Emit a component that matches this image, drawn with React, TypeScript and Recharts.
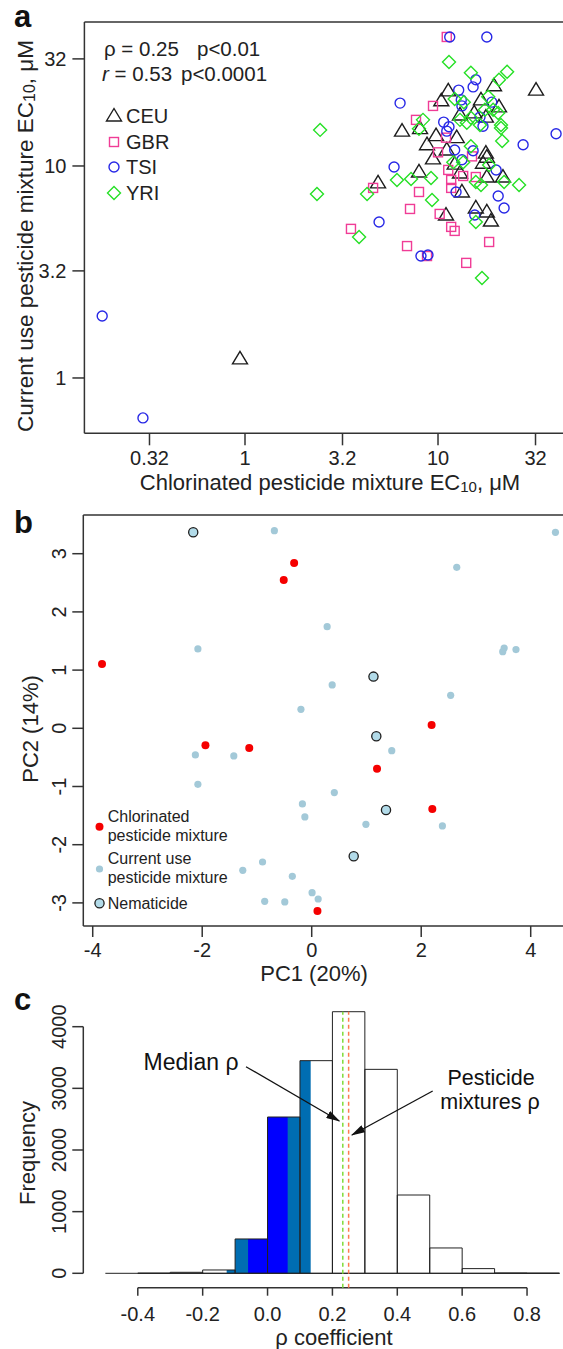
import React from 'react';
import {
  ScatterChart,
  Scatter,
  XAxis,
  YAxis,
  ComposedChart,
  ReferenceArea,
  ReferenceLine,
} from 'recharts';

const FONT = '"Liberation Sans", Arial, Helvetica, sans-serif';
const INK = '#222';
const AXIS = '#333';

// ---------------- Panel a: EC10 values (µM): [chlorinated, current use] ----------------
const CEU: number[][] = [
  [32.2, 22.8], [19.5, 23.9], [11.3, 22.6], [10.4, 20.3], [16.7, 20.5], [20.7, 19.0],
  [15.4, 17.8], [13.0, 17.4], [17.7, 17.0], [6.51, 14.6], [8.07, 15.0], [9.77, 13.9],
  [12.5, 13.6], [8.77, 12.6], [9.42, 10.8], [11.1, 11.9], [17.7, 11.5], [17.9, 11.0],
  [17.1, 10.3], [12.2, 10.2], [13.0, 9.27], [7.97, 9.37], [4.89, 8.32], [17.9, 8.87],
  [21.7, 8.87], [13.3, 7.54], [11.0, 5.87], [15.7, 6.34], [17.9, 6.07], [18.8, 5.5],
  [0.942, 1.23],
];
const GBR: number[][] = [
  [11.1, 40.6], [9.42, 19.2], [7.69, 16.5], [10.0, 11.6], [11.0, 13.6], [11.3, 9.58],
  [11.7, 8.59], [11.7, 7.88], [13.5, 8.97], [15.0, 11.1], [15.7, 8.87], [7.97, 7.54],
  [4.61, 7.88], [7.16, 6.27], [10.2, 5.94], [11.7, 5.16], [12.2, 4.94], [3.54, 5.05],
  [6.91, 4.19], [8.77, 3.76], [14.0, 3.49], [18.4, 4.38],
];
const TSI: number[][] = [
  [11.5, 40.6], [17.9, 40.6], [15.7, 25.5], [15.2, 23.6], [12.8, 22.8], [6.36, 19.8],
  [13.2, 20.5], [13.3, 19.2], [19.0, 20.0], [10.7, 16.1], [11.4, 15.3], [11.1, 14.6],
  [16.5, 17.0], [17.1, 15.4], [40.9, 14.2], [27.6, 12.6], [12.2, 11.9], [15.2, 11.8],
  [13.3, 10.7], [5.92, 9.89], [20.0, 9.58], [12.4, 7.54], [20.5, 7.22], [22.0, 6.34],
  [4.95, 5.44], [15.5, 5.87], [8.16, 3.76], [8.87, 3.8], [0.182, 1.96], [0.296, 0.648],
];
const YRI: number[][] = [
  [11.4, 30.9], [14.8, 27.5], [22.8, 27.8], [20.7, 25.5], [12.2, 20.7], [13.6, 20.0],
  [18.2, 21.2], [19.3, 18.4], [20.5, 17.8], [14.8, 16.9], [21.2, 15.6], [8.36, 16.5],
  [7.97, 15.0], [13.0, 16.5], [14.1, 16.0], [2.45, 14.8], [21.2, 15.1], [21.5, 13.1],
  [14.8, 12.4], [12.0, 10.4], [13.5, 10.4], [18.4, 10.1], [9.2, 8.78], [6.13, 8.59],
  [7.25, 8.68], [15.7, 8.41], [16.7, 8.14], [26.3, 8.14], [22.0, 8.41], [4.29, 7.38],
  [2.36, 7.38], [9.31, 6.91], [15.7, 5.44], [3.9, 4.62], [16.9, 2.96], [16.5, 15.6],
  [17.5, 18.4],
];
const aTicksX = [0.32, 1, 3.2, 10, 32];
const aTicksY = [1, 3.2, 10, 32];
const aDomainX = [0.1472, 61.3];
const aDomainY = [0.5483, 47.77];
const aPopulations = ['CEU', 'GBR', 'TSI', 'YRI'];
const aStats = ['ρ = 0.25', 'p<0.01', 'r = 0.53', 'p<0.0001'];

// ---------------- Panel b: PCA scores [PC1, PC2] ----------------
const chlorinatedPC: number[][] = [
  [-0.321, 2.841], [-0.511, 2.549], [-3.83, 1.105], [2.19, 0.057], [-1.941, -0.292],
  [-1.141, -0.338], [1.193, -0.693], [2.203, -1.386], [0.105, -3.138],
];
const currentUsePC: number[][] = [
  [-0.682, 3.396], [4.452, 3.368], [2.649, 2.766], [0.282, 1.747], [-2.079, 1.363],
  [3.515, 1.38], [3.489, 1.317], [3.731, 1.352], [0.374, 0.745], [2.538, 0.567],
  [-0.197, 0.326], [-2.125, -0.458], [-1.423, -0.475], [1.462, -0.384], [-2.079, -0.962],
  [0.413, -1.105], [-0.17, -1.3], [-0.125, -1.523], [2.387, -1.678], [0.99, -1.65],
  [-0.898, -2.297], [-1.259, -2.44], [-0.354, -2.543], [0.007, -2.824], [0.118, -2.933],
  [-0.859, -2.973], [-0.492, -2.984],
];
const nematicidePC: number[][] = [
  [-2.164, 3.368], [1.128, 0.888], [1.18, -0.137], [1.357, -1.403], [0.767, -2.199],
];
const bTicksX = [-4, -2, 0, 2, 4];
const bTicksY = [-3, -2, -1, 0, 1, 2, 3];
const bDomainX = [-4.172, 5.083];
const bDomainY = [-3.397, 3.665];

// ---------------- Panel c: histogram of rho ----------------
const binEdges = [-0.5, -0.4, -0.3, -0.2, -0.1, 0, 0.1, 0.2, 0.3, 0.4, 0.5, 0.6, 0.7, 0.8, 0.9];
const binCounts = [0, 2, 16, 54, 557, 2535, 3449, 4243, 3308, 1270, 411, 76, 5, 2];
const ciOuter = [-0.126, 0.133];
const ciInner = [-0.06, 0.062];
const medianRho = 0.232;
const mixtureRho = 0.25;
const cTicksX = [-0.4, -0.2, 0, 0.2, 0.4, 0.6, 0.8];
const cTicksY = [0, 1000, 2000, 3000, 4000];
const cDomainX = [-0.568, 0.9941];
const cDomainY = [-233.6, 4433];

const COL = { CEU: '#1e1e1e', GBR: '#f03c96', TSI: '#2828e6', YRI: '#26e026' };
const LIGHTBLUE = '#a3c9d8';
const NEMFILL = '#b2dbe9';
const RED = '#f50000';
const STEEL = '#006db2';
const BRIGHT = '#0000ff';

const toPts = (arr: number[][]) => arr.map(([x, y]) => ({ x, y }));

// ---------- symbols ----------
function symbol(kind: string, cx: number, cy: number, key?: any) {
  if (kind === 'CEU')
    return (
      <polygon key={key} points={`${cx},${cy - 7.5} ${cx + 7.5},${cy + 5} ${cx - 7.5},${cy + 5}`}
        fill="none" stroke={COL.CEU} strokeWidth={1.4} />
    );
  if (kind === 'GBR')
    return <rect key={key} x={cx - 4.5} y={cy - 4.5} width={9} height={9} fill="none" stroke={COL.GBR} strokeWidth={1.4} />;
  if (kind === 'TSI')
    return <circle key={key} cx={cx} cy={cy} r={5} fill="none" stroke={COL.TSI} strokeWidth={1.4} />;
  return (
    <polygon key={key} points={`${cx},${cy - 6.5} ${cx + 6.5},${cy} ${cx},${cy + 6.5} ${cx - 6.5},${cy}`}
      fill="none" stroke={COL.YRI} strokeWidth={1.4} />
  );
}
const mkShape = (kind: string) => (p: any) =>
  p && p.cx != null && p.cy != null ? symbol(kind, p.cx, p.cy) : <g />;

const mkDot = (fill: string, r: number, stroke?: string) => (p: any) =>
  p && p.cx != null ? (
    <circle cx={p.cx} cy={p.cy} r={r} fill={fill} stroke={stroke || 'none'} strokeWidth={1.3} />
  ) : (
    <g />
  );

const tickStyle = { fill: INK, fontSize: 20, fontFamily: FONT };
const lineStyle = { stroke: AXIS, strokeWidth: 1.5 };

const RotTick = (props: any) => {
  const { x, y, payload } = props;
  const bx = x - 4;
  return (
    <text x={bx} y={y} transform={`rotate(-90 ${bx} ${y})`} textAnchor="middle"
      fontSize={20} fill={INK} fontFamily={FONT}>
      {String(payload.value)}
    </text>
  );
};

const VText = ({ cx, cy, size, children }: any) => {
  const bx = cx + size * 0.36;
  return (
    <text x={bx} y={cy} transform={`rotate(-90 ${bx} ${cy})`} textAnchor="middle"
      fontSize={size} fill={INK} fontFamily={FONT}>
      {children}
    </text>
  );
};

// histogram overlay segments from the confidence bands
function bandSegments(band: number[]) {
  const segs: { x1: number; x2: number; h: number }[] = [];
  for (let i = 0; i < binCounts.length; i++) {
    const a = Math.max(binEdges[i], band[0]);
    const b = Math.min(binEdges[i + 1], band[1]);
    if (b > a) segs.push({ x1: a, x2: b, h: binCounts[i] });
  }
  return segs;
}

export default function App() {
  const outerSegs = bandSegments(ciOuter);
  const innerSegs = bandSegments(ciInner);
  const maxCount = Math.max(...binCounts);
  const binMids = binCounts.map((c, i) => ({ x: (binEdges[i] + binEdges[i + 1]) / 2, y: c }));

  return (
    <div style={{ position: 'absolute', left: 0, top: 0, width: 563, height: 1349, overflow: 'hidden', background: '#fff' }}>
      {/* Panel a */}
      <div style={{ position: 'absolute', left: 0, top: 0 }}>
        <ScatterChart width={600} height={470} margin={{ top: 22, right: 10, bottom: 6.7, left: 0 }}>
          <XAxis type="number" dataKey="x" scale="log" domain={aDomainX} ticks={aTicksX} allowDataOverflow
            interval={0} height={30} tickSize={12} tickMargin={5} tick={tickStyle} axisLine={lineStyle} tickLine={lineStyle} />
          <YAxis type="number" dataKey="y" scale="log" domain={aDomainY} ticks={aTicksY} allowDataOverflow
            interval={0} width={84.4} tickSize={12} tickMargin={6} tick={tickStyle} axisLine={lineStyle} tickLine={lineStyle} />
          <Scatter data={toPts(CEU)} shape={mkShape('CEU')} isAnimationActive={false} />
          <Scatter data={toPts(GBR)} shape={mkShape('GBR')} isAnimationActive={false} />
          <Scatter data={toPts(TSI)} shape={mkShape('TSI')} isAnimationActive={false} />
          <Scatter data={toPts(YRI)} shape={mkShape('YRI')} isAnimationActive={false} />
        </ScatterChart>
      </div>

      {/* Panel b */}
      <div style={{ position: 'absolute', left: 0, top: 500 }}>
        <ScatterChart width={600} height={490} margin={{ top: 15, right: 10, bottom: 24, left: 0 }}>
          <XAxis type="number" dataKey="x" domain={bDomainX} ticks={bTicksX} allowDataOverflow interval={0}
            height={40} tickSize={11} tickMargin={6} tick={tickStyle} axisLine={lineStyle} tickLine={lineStyle} />
          <YAxis type="number" dataKey="y" domain={bDomainY} ticks={bTicksY} allowDataOverflow interval={0}
            width={83.3} tickSize={11} tick={<RotTick />} axisLine={lineStyle} tickLine={lineStyle} />
          <Scatter data={toPts(currentUsePC)} shape={mkDot(LIGHTBLUE, 3.6)} isAnimationActive={false} />
          <Scatter data={toPts(nematicidePC)} shape={mkDot(NEMFILL, 4.6, '#1e1e1e')} isAnimationActive={false} />
          <Scatter data={toPts(chlorinatedPC)} shape={mkDot(RED, 4)} isAnimationActive={false} />
        </ScatterChart>
      </div>

      {/* Panel c */}
      <div style={{ position: 'absolute', left: 0, top: 990 }}>
        <ComposedChart width={600} height={359} margin={{ top: 10, right: 10, bottom: 21.3, left: 0 }}>
          <XAxis type="number" dataKey="x" domain={cDomainX} ticks={cTicksX} allowDataOverflow interval={0}
            height={40} tickSize={8} tickMargin={11} tick={tickStyle} axisLine={false} tickLine={lineStyle}
            tickFormatter={(v: number) => v.toFixed(1)} />
          <YAxis type="number" dataKey="y" domain={cDomainY} ticks={cTicksY} allowDataOverflow interval={0}
            width={83.3} tickSize={11} tick={<RotTick />} axisLine={false} tickLine={lineStyle} />
          <Scatter data={binMids} shape={() => <g />} isAnimationActive={false} />
          {outerSegs.map((s, i) => (
            <ReferenceArea key={'o' + i} x1={s.x1} x2={s.x2} y1={0} y2={s.h} fill={STEEL} fillOpacity={1} stroke="none" ifOverflow="visible" />
          ))}
          {innerSegs.map((s, i) => (
            <ReferenceArea key={'i' + i} x1={s.x1} x2={s.x2} y1={0} y2={s.h} fill={BRIGHT} fillOpacity={1} stroke="none" ifOverflow="visible" />
          ))}
          {binCounts.map((c, i) => (
            <ReferenceArea key={'b' + i} x1={binEdges[i]} x2={binEdges[i + 1]} y1={0} y2={c} fill="none" fillOpacity={0}
              stroke={INK} strokeWidth={1} ifOverflow="visible" />
          ))}
          <ReferenceLine segment={[{ x: binEdges[0], y: 0 }, { x: binEdges[binEdges.length - 1], y: 0 }]} stroke={INK} strokeWidth={1} ifOverflow="visible" />
          <ReferenceLine segment={[{ x: cTicksX[0], y: cDomainY[0] }, { x: cTicksX[cTicksX.length - 1], y: cDomainY[0] }]} stroke={AXIS} strokeWidth={1.5} ifOverflow="visible" />
          <ReferenceLine segment={[{ x: cDomainX[0], y: cTicksY[0] }, { x: cDomainX[0], y: cTicksY[cTicksY.length - 1] }]} stroke={AXIS} strokeWidth={1.5} ifOverflow="visible" />
          <ReferenceLine segment={[{ x: medianRho, y: cDomainY[0] }, { x: medianRho, y: maxCount }]} stroke="#7fdc3a" strokeWidth={1.5} strokeDasharray="4 3" ifOverflow="visible" />
          <ReferenceLine segment={[{ x: mixtureRho, y: cDomainY[0] }, { x: mixtureRho, y: maxCount }]} stroke="#ff7a50" strokeWidth={1.5} strokeDasharray="4 3" ifOverflow="visible" />
        </ComposedChart>
      </div>

      {/* Annotation overlay */}
      <svg width={563} height={1349} style={{ position: 'absolute', left: 0, top: 0, pointerEvents: 'none' }}>
        <defs>
          <marker id="arrowHead" markerWidth="14" markerHeight="8" refX="13" refY="4" orient="auto" markerUnits="userSpaceOnUse">
            <path d="M0,0 L14,4 L0,8 Z" fill="#111" />
          </marker>
        </defs>
        {/* panel letters */}
        <text x={14} y={27} fontSize={31} fontWeight="bold" fontFamily={FONT} fill="#111">a</text>
        <text x={14} y={533} fontSize={31} fontWeight="bold" fontFamily={FONT} fill="#111">b</text>
        <text x={14} y={1010} fontSize={31} fontWeight="bold" fontFamily={FONT} fill="#111">c</text>

        {/* panel a box top */}
        <line x1={84.4} y1={22} x2={563} y2={22} stroke={AXIS} strokeWidth={1.5} />
        {/* panel a stats */}
        <text x={104} y={56} fontSize={20.5} fontFamily={FONT} fill={INK}>{aStats[0]}</text>
        <text x={197} y={56} fontSize={20.5} fontFamily={FONT} fill={INK}>{aStats[1]}</text>
        <text x={102} y={81} fontSize={20.5} fontFamily={FONT} fill={INK}>
          <tspan fontStyle="italic">r</tspan>{aStats[2].slice(1)}
        </text>
        <text x={181} y={81} fontSize={20.5} fontFamily={FONT} fill={INK}>{aStats[3]}</text>
        {/* panel a legend */}
        {aPopulations.map((p, i) => {
          const cy = [116, 142, 167, 193][i];
          return (
            <g key={p}>
              {symbol(p, 114, cy)}
              <text x={126} y={cy + 7.2} fontSize={20} fontFamily={FONT} fill={INK}>{p}</text>
            </g>
          );
        })}
        {/* panel a axis titles */}
        <text x={330} y={490} textAnchor="middle" fontSize={22} fontFamily={FONT} fill={INK}>
          Chlorinated pesticide mixture EC<tspan fontSize={15} dy={2}>10</tspan><tspan dy={-2}>, μM</tspan>
        </text>
        <VText cx={25} cy={236} size={22.5}>
          Current use pesticide mixture EC<tspan fontSize={16} dy={2}>10</tspan><tspan dy={-2}>, μM</tspan>
        </VText>

        {/* panel b box top */}
        <line x1={83.3} y1={515} x2={563} y2={515} stroke={AXIS} strokeWidth={1.5} />
        {/* panel b legend */}
        <circle cx={99.5} cy={826.7} r={4} fill={RED} />
        <text x={107.7} y={821.7} fontSize={16} fontFamily={FONT} fill={INK}>Chlorinated</text>
        <text x={107.7} y={841.4} fontSize={16} fontFamily={FONT} fill={INK}>pesticide mixture</text>
        <circle cx={99.5} cy={869} r={3.6} fill={LIGHTBLUE} />
        <text x={107.7} y={864.4} fontSize={16} fontFamily={FONT} fill={INK}>Current use</text>
        <text x={107.7} y={883} fontSize={16} fontFamily={FONT} fill={INK}>pesticide mixture</text>
        <circle cx={99.5} cy={903.3} r={4.6} fill={NEMFILL} stroke="#1e1e1e" strokeWidth={1.3} />
        <text x={107.7} y={909} fontSize={16} fontFamily={FONT} fill={INK}>Nematicide</text>
        {/* panel b axis titles */}
        <text x={314} y={981} textAnchor="middle" fontSize={22} fontFamily={FONT} fill={INK}>PC1 (20%)</text>
        <VText cx={30.5} cy={729} size={22}>PC2 (14%)</VText>

        {/* panel c annotations */}
        <text x={143.6} y={1070} fontSize={23} fontFamily={FONT} fill="#111">Median ρ</text>
        <line x1={246} y1={1066.7} x2={339.3} y2={1121} stroke="#111" strokeWidth={1.3} markerEnd="url(#arrowHead)" />
        <text x={491} y={1085} textAnchor="middle" fontSize={21.5} fontFamily={FONT} fill="#111">Pesticide</text>
        <text x={490} y={1109} textAnchor="middle" fontSize={21.5} fontFamily={FONT} fill="#111">mixtures ρ</text>
        <line x1={432.7} y1={1091} x2={351.9} y2={1135} stroke="#111" strokeWidth={1.3} markerEnd="url(#arrowHead)" />
        {/* panel c axis titles */}
        <text x={334} y={1345} textAnchor="middle" fontSize={22} fontFamily={FONT} fill={INK}>ρ coefficient</text>
        <VText cx={27} cy={1153} size={22}>Frequency</VText>
      </svg>
    </div>
  );
}
